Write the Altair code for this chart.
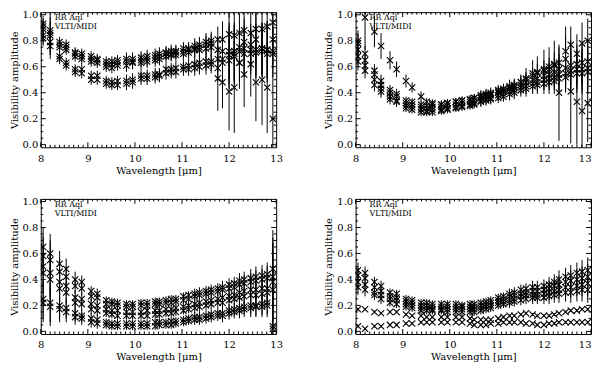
import altair as alt
import pandas as pd

# ---------------- data ----------------
WL = [8.05, 8.20, 8.40, 8.54, 8.73, 8.87, 9.07, 9.20, 9.39, 9.51, 9.63, 9.82, 9.95,
      10.13, 10.26, 10.43, 10.52, 10.66, 10.77, 10.87, 11.03, 11.14, 11.27, 11.37,
      11.51, 11.62, 11.76, 11.86, 12.00, 12.11, 12.22, 12.32, 12.46, 12.57, 12.70,
      12.81, 12.93]

# Panel 1 (top left)
P1_A = [0.93, 0.88, 0.79, 0.77, 0.71, 0.70, 0.68, 0.66, 0.64, 0.64, 0.65, 0.66, 0.66,
        0.67, 0.68, 0.69, 0.70, 0.71, 0.72, 0.72, 0.74, 0.74, 0.76, 0.77, 0.79, 0.80,
        0.81, 0.81, 0.85, 0.84, 0.86, 0.88, 0.86, 0.89, 0.89, 0.91, 0.94]
P1_B = [0.89, 0.84, 0.75, 0.73, 0.68, 0.66, 0.64, 0.63, 0.60, 0.59, 0.61, 0.61, 0.63,
        0.63, 0.64, 0.65, 0.66, 0.68, 0.69, 0.69, 0.70, 0.71, 0.73, 0.73, 0.74, 0.75,
        0.73, 0.72, 0.72, 0.72, 0.75, 0.79, 0.77, 0.81, 0.74, 0.73, 0.81]
P1_C = [0.84, 0.79, 0.68, 0.63, 0.58, 0.58, 0.53, 0.53, 0.49, 0.48, 0.49, 0.49, 0.50,
        0.53, 0.53, 0.54, 0.54, 0.58, 0.58, 0.59, 0.60, 0.61, 0.62, 0.63, 0.64, 0.64,
        0.66, 0.66, 0.69, 0.70, 0.72, 0.74, 0.73, 0.73, 0.72, 0.73, 0.72]
P1_D = [0.82, 0.76, 0.66, 0.61, 0.56, 0.55, 0.50, 0.50, 0.47, 0.46, 0.46, 0.47, 0.48,
        0.51, 0.51, 0.52, 0.53, 0.55, 0.56, 0.56, 0.58, 0.58, 0.59, 0.60, 0.61, 0.62,
        0.59, 0.63, 0.65, 0.68, 0.63, 0.70, 0.70, 0.71, 0.74, 0.70, 0.70]
P1_E = [0.91, 0.86, 0.77, 0.75, 0.70, 0.68, 0.66, 0.65, 0.62, 0.62, 0.63, 0.64, 0.64,
        0.65, 0.66, 0.67, 0.68, 0.70, 0.70, 0.71, 0.72, 0.73, 0.74, 0.75, 0.77, 0.78,
        0.51, 0.48, 0.41, 0.44, 0.63, 0.54, 0.62, 0.48, 0.50, 0.44, 0.20]
P1_ERR = [0.06, 0.10, 0.04, 0.04, 0.04, 0.04, 0.04, 0.04, 0.04, 0.04, 0.04, 0.05, 0.05,
          0.05, 0.05, 0.05, 0.05, 0.05, 0.05, 0.05, 0.05, 0.05, 0.06, 0.06, 0.07, 0.07,
          0.10, 0.14, 0.22, 0.22, 0.15, 0.18, 0.16, 0.20, 0.20, 0.22, 0.20]
P1_ERR_X = [0.06, 0.15, 0.04, 0.04, 0.04, 0.04, 0.04, 0.04, 0.04, 0.04, 0.04, 0.05, 0.05,
            0.05, 0.05, 0.05, 0.05, 0.05, 0.05, 0.05, 0.05, 0.05, 0.06, 0.06, 0.07, 0.07,
            0.25, 0.20, 0.30, 0.35, 0.20, 0.25, 0.25, 0.30, 0.35, 0.35, 0.30]

# Panel 2 (top right)
P2_A = [0.78, 0.70, 0.57, 0.49, 0.42, 0.39, 0.34, 0.33, 0.31, 0.30, 0.31, 0.31, 0.32,
        0.33, 0.34, 0.35, 0.36, 0.38, 0.39, 0.40, 0.42, 0.43, 0.45, 0.46, 0.48, 0.50,
        0.53, 0.55, 0.57, 0.58, 0.61, 0.63, 0.72, 0.77, 0.70, 0.78, 0.80]
P2_B = [0.73, 0.65, 0.54, 0.46, 0.40, 0.37, 0.32, 0.31, 0.29, 0.28, 0.29, 0.29, 0.30,
        0.31, 0.32, 0.33, 0.34, 0.36, 0.37, 0.38, 0.40, 0.41, 0.43, 0.44, 0.46, 0.48,
        0.50, 0.51, 0.53, 0.54, 0.56, 0.58, 0.59, 0.61, 0.62, 0.63, 0.64]
P2_C = [0.68, 0.61, 0.50, 0.43, 0.37, 0.34, 0.30, 0.29, 0.27, 0.26, 0.27, 0.27, 0.28,
        0.29, 0.30, 0.31, 0.32, 0.34, 0.35, 0.36, 0.38, 0.39, 0.41, 0.42, 0.44, 0.45,
        0.47, 0.48, 0.50, 0.51, 0.52, 0.54, 0.55, 0.57, 0.58, 0.58, 0.59]
P2_D = [0.64, 0.57, 0.46, 0.41, 0.35, 0.33, 0.28, 0.27, 0.25, 0.25, 0.25, 0.26, 0.27,
        0.28, 0.29, 0.30, 0.31, 0.33, 0.34, 0.35, 0.36, 0.37, 0.39, 0.40, 0.42, 0.43,
        0.45, 0.46, 0.47, 0.48, 0.49, 0.51, 0.52, 0.54, 0.55, 0.55, 0.56]
P2_E = [0.80, 0.98, 0.87, 0.76, 0.65, 0.58, 0.49, 0.44, 0.37, 0.33, 0.32, 0.31, 0.32,
        0.33, 0.34, 0.35, 0.36, 0.37, 0.38, 0.39, 0.41, 0.42, 0.44, 0.45, 0.48, 0.51,
        0.55, 0.56, 0.58, 0.60, 0.62, 0.40, 0.66, 0.41, 0.33, 0.26, 0.32]
P2_ERR = [0.07, 0.06, 0.05, 0.05, 0.04, 0.04, 0.03, 0.03, 0.03, 0.03, 0.03, 0.03, 0.03,
          0.03, 0.03, 0.03, 0.03, 0.04, 0.04, 0.04, 0.04, 0.04, 0.05, 0.05, 0.05, 0.06,
          0.06, 0.07, 0.08, 0.09, 0.10, 0.12, 0.12, 0.14, 0.15, 0.16, 0.17]
P2_ERR_X = [0.08, 0.25, 0.12, 0.10, 0.07, 0.06, 0.05, 0.04, 0.04, 0.03, 0.03, 0.03, 0.03,
            0.03, 0.03, 0.03, 0.03, 0.04, 0.04, 0.04, 0.04, 0.04, 0.05, 0.05, 0.06, 0.08,
            0.10, 0.12, 0.15, 0.15, 0.18, 0.37, 0.25, 0.40, 0.33, 0.30, 0.30]

# Panel 3 (bottom left)
P3_A = [0.65, 0.60, 0.52, 0.48, 0.40, 0.38, 0.31, 0.29, 0.24, 0.23, 0.22, 0.21, 0.21,
        0.22, 0.22, 0.23, 0.23, 0.24, 0.25, 0.25, 0.27, 0.28, 0.29, 0.30, 0.31, 0.32,
        0.33, 0.34, 0.36, 0.37, 0.39, 0.40, 0.41, 0.42, 0.43, 0.44, 0.48]
P3_B = [0.58, 0.55, 0.46, 0.42, 0.35, 0.33, 0.27, 0.26, 0.21, 0.21, 0.20, 0.19, 0.19,
        0.20, 0.20, 0.21, 0.21, 0.22, 0.22, 0.23, 0.24, 0.25, 0.27, 0.28, 0.29, 0.30,
        0.31, 0.32, 0.33, 0.34, 0.36, 0.37, 0.38, 0.39, 0.40, 0.41, 0.42]
P3_C = [0.50, 0.45, 0.38, 0.35, 0.26, 0.25, 0.21, 0.20, 0.17, 0.16, 0.16, 0.15, 0.15,
        0.15, 0.16, 0.16, 0.16, 0.17, 0.17, 0.18, 0.19, 0.20, 0.21, 0.22, 0.23, 0.24,
        0.25, 0.26, 0.27, 0.28, 0.30, 0.31, 0.32, 0.32, 0.33, 0.33, 0.38]
P3_D = [0.45, 0.40, 0.33, 0.30, 0.22, 0.21, 0.17, 0.16, 0.14, 0.13, 0.12, 0.12, 0.12,
        0.12, 0.12, 0.13, 0.13, 0.14, 0.14, 0.15, 0.16, 0.17, 0.18, 0.19, 0.20, 0.21,
        0.22, 0.22, 0.24, 0.25, 0.26, 0.27, 0.28, 0.28, 0.29, 0.30, 0.32]
P3_E = [0.25, 0.22, 0.20, 0.18, 0.14, 0.12, 0.10, 0.09, 0.07, 0.06, 0.06, 0.06, 0.06,
        0.06, 0.06, 0.07, 0.07, 0.07, 0.08, 0.08, 0.09, 0.10, 0.11, 0.11, 0.12, 0.13,
        0.14, 0.14, 0.16, 0.17, 0.18, 0.19, 0.20, 0.20, 0.21, 0.22, 0.04]
P3_F = [0.22, 0.19, 0.17, 0.15, 0.11, 0.10, 0.07, 0.06, 0.05, 0.04, 0.04, 0.04, 0.04,
        0.04, 0.04, 0.04, 0.05, 0.05, 0.05, 0.06, 0.07, 0.08, 0.09, 0.09, 0.10, 0.11,
        0.12, 0.12, 0.14, 0.15, 0.16, 0.17, 0.18, 0.19, 0.19, 0.20, 0.02]
P3_ERR = [0.15, 0.15, 0.10, 0.08, 0.06, 0.05, 0.04, 0.04, 0.03, 0.03, 0.03, 0.03, 0.03,
          0.03, 0.03, 0.03, 0.03, 0.03, 0.03, 0.03, 0.03, 0.03, 0.04, 0.04, 0.04, 0.04,
          0.04, 0.05, 0.05, 0.05, 0.06, 0.06, 0.07, 0.08, 0.08, 0.09, 0.30]

# Panel 4 (bottom right)
P4_A = [0.47, 0.45, 0.38, 0.35, 0.30, 0.29, 0.25, 0.24, 0.22, 0.22, 0.21, 0.21, 0.21,
        0.21, 0.20, 0.21, 0.21, 0.22, 0.23, 0.24, 0.26, 0.27, 0.29, 0.30, 0.32, 0.33,
        0.34, 0.34, 0.35, 0.36, 0.38, 0.40, 0.42, 0.43, 0.45, 0.46, 0.47]
P4_B = [0.43, 0.41, 0.34, 0.31, 0.27, 0.26, 0.23, 0.22, 0.20, 0.20, 0.19, 0.19, 0.19,
        0.19, 0.19, 0.19, 0.19, 0.20, 0.21, 0.22, 0.24, 0.25, 0.27, 0.28, 0.29, 0.30,
        0.31, 0.31, 0.32, 0.33, 0.35, 0.36, 0.38, 0.39, 0.40, 0.41, 0.42]
P4_C = [0.38, 0.36, 0.30, 0.28, 0.25, 0.24, 0.21, 0.20, 0.18, 0.18, 0.17, 0.17, 0.17,
        0.17, 0.17, 0.17, 0.17, 0.18, 0.19, 0.20, 0.22, 0.23, 0.24, 0.25, 0.27, 0.28,
        0.28, 0.28, 0.29, 0.30, 0.31, 0.32, 0.34, 0.34, 0.35, 0.36, 0.37]
P4_D = [0.34, 0.32, 0.28, 0.25, 0.22, 0.21, 0.19, 0.18, 0.16, 0.16, 0.16, 0.16, 0.15,
        0.15, 0.15, 0.15, 0.15, 0.16, 0.17, 0.18, 0.20, 0.21, 0.22, 0.23, 0.24, 0.25,
        0.26, 0.26, 0.26, 0.27, 0.28, 0.29, 0.30, 0.30, 0.31, 0.32, 0.32]
P4_E = [0.17, 0.17, 0.15, 0.14, 0.15, 0.15, 0.13, 0.12, 0.12, 0.11, 0.11, 0.11, 0.11,
        0.11, 0.11, 0.10, 0.09, 0.09, 0.09, 0.09, 0.10, 0.11, 0.12, 0.12, 0.13, 0.14,
        0.13, 0.12, 0.12, 0.12, 0.13, 0.14, 0.15, 0.16, 0.16, 0.17, 0.17]
P4_F = [0.04, 0.02, 0.04, 0.04, 0.05, 0.05, 0.06, 0.06, 0.07, 0.07, 0.07, 0.07, 0.07,
        0.07, 0.07, 0.06, 0.05, 0.05, 0.05, 0.06, 0.06, 0.07, 0.07, 0.07, 0.07, 0.06,
        0.06, 0.05, 0.05, 0.06, 0.06, 0.07, 0.07, 0.07, 0.07, 0.07, 0.07]
P4_ERR = [0.06, 0.05, 0.04, 0.04, 0.03, 0.03, 0.03, 0.03, 0.03, 0.03, 0.03, 0.03, 0.03,
          0.03, 0.03, 0.03, 0.03, 0.03, 0.03, 0.03, 0.03, 0.03, 0.04, 0.04, 0.04, 0.04,
          0.05, 0.05, 0.05, 0.06, 0.06, 0.07, 0.07, 0.08, 0.08, 0.09, 0.10]
P4_ERR_X = [0.01, 0.01, 0.01, 0.01, 0.01, 0.01, 0.01, 0.01, 0.01, 0.01, 0.01, 0.01, 0.01,
            0.01, 0.01, 0.01, 0.01, 0.01, 0.01, 0.01, 0.01, 0.01, 0.01, 0.01, 0.01, 0.01,
            0.01, 0.01, 0.01, 0.01, 0.01, 0.01, 0.01, 0.01, 0.01, 0.01, 0.01]

LABEL_1 = "RR Aql"
LABEL_2 = "VLTI/MIDI"
X_TITLE = "Wavelength [\u03bcm]"
Y_TITLE = "Visibility amplitude"
X_TICKS = [8, 9, 10, 11, 12, 13]
Y_TICKS = [0.0, 0.2, 0.4, 0.6, 0.8, 1.0]

# ---------------- layout ----------------
W, H = 237, 136
XDOM = [8, 13]
YDOM = [-0.02, 1.02]
FONT = "DejaVu Serif"
CROSS = "M-1,-1L1,1M-1,1L1,-1"

X_MINOR = [8 + i / 10 for i in range(1, 50) if i % 10]
Y_MINOR = [i / 20 for i in range(0, 21) if i % 4]


def panel_frame(series):
    rows = []
    for vals, errs in series:
        for w, v, e in zip(WL, vals, errs):
            rows.append({"wl": w, "v": v, "lo": v - e, "hi": v + e})
    return pd.DataFrame(rows)


def make_panel(series, right=False):
    df = panel_frame(series)
    xs = alt.Scale(domain=XDOM, nice=False, zero=False)
    ys = alt.Scale(domain=YDOM, nice=False, zero=False)
    if right:
        x_align = alt.condition("datum.value == 13", alt.value("right"), alt.value("center"))
    else:
        x_align = "center"
    xaxis = alt.Axis(values=X_TICKS, format="d", title=X_TITLE, labelPadding=6,
                     titlePadding=2, labelAlign=x_align)
    yaxis = alt.Axis(values=Y_TICKS, format=".1f", title=Y_TITLE, labelPadding=3,
                     titlePadding=3)

    def X(f):
        return alt.X(f, scale=xs, axis=xaxis)

    def Y(f):
        return alt.Y(f, scale=ys, axis=yaxis)

    bars = alt.Chart(df).mark_rule(color="black", strokeWidth=1, clip=True).encode(
        x=X("wl:Q"), y=Y("lo:Q"), y2="hi:Q",
    )
    pts = alt.Chart(df).mark_point(shape=CROSS, size=40, filled=False, color="black",
                                   strokeWidth=1.1, opacity=1, clip=True).encode(
        x=X("wl:Q"), y=Y("v:Q"),
    )

    xmaj = pd.DataFrame({"wl": X_TICKS})
    xmin = pd.DataFrame({"wl": X_MINOR})
    ymaj = pd.DataFrame({"v": Y_TICKS})
    ymin = pd.DataFrame({"v": Y_MINOR})
    tick_layers = []
    for d, ln in ((xmaj, 5), (xmin, 2.5)):
        for y0, y1 in ((H, H - ln), (0, ln)):
            tick_layers.append(alt.Chart(d).mark_rule(color="black", strokeWidth=1).encode(
                x=X("wl:Q"), y=alt.value(y0), y2=alt.value(y1)))
    for d, ln in ((ymaj, 5), (ymin, 2.5)):
        for x0, x1 in ((0, ln), (W, W - ln)):
            tick_layers.append(alt.Chart(d).mark_rule(color="black", strokeWidth=1).encode(
                y=Y("v:Q"), x=alt.value(x0), x2=alt.value(x1)))

    lab = pd.DataFrame({"t": [LABEL_1, LABEL_2]})
    txt1 = alt.Chart(lab.iloc[[0]]).mark_text(font=FONT, fontSize=8, align="left",
                                               baseline="middle", color="black").encode(
        text="t:N", x=alt.value(14), y=alt.value(6))
    txt2 = alt.Chart(lab.iloc[[1]]).mark_text(font=FONT, fontSize=8, align="left",
                                               baseline="middle", color="black").encode(
        text="t:N", x=alt.value(14), y=alt.value(15))

    return alt.layer(bars, pts, *tick_layers, txt1, txt2).properties(width=W, height=H)


p1 = make_panel([(P1_A, P1_ERR), (P1_B, P1_ERR), (P1_C, P1_ERR), (P1_D, P1_ERR),
                 (P1_E, P1_ERR_X)])
p2 = make_panel([(P2_A, P2_ERR), (P2_B, P2_ERR), (P2_C, P2_ERR), (P2_D, P2_ERR),
                 (P2_E, P2_ERR_X)], right=True)
p3 = make_panel([(P3_A, P3_ERR), (P3_B, P3_ERR), (P3_C, P3_ERR), (P3_D, P3_ERR),
                 (P3_E, P3_ERR), (P3_F, P3_ERR)])
p4 = make_panel([(P4_A, P4_ERR), (P4_B, P4_ERR), (P4_C, P4_ERR), (P4_D, P4_ERR),
                 (P4_E, P4_ERR_X), (P4_F, P4_ERR_X)], right=True)

chart = alt.vconcat(
    alt.hconcat(p1, p2, spacing=40),
    alt.hconcat(p3, p4, spacing=40),
    spacing=20,
).configure_view(stroke="black", strokeWidth=1).configure_axis(
    labelFont=FONT, labelFontSize=10, labelColor="black",
    titleFont=FONT, titleFontSize=10, titleFontWeight="normal", titleColor="black",
    ticks=False, domain=False, grid=False,
).properties(padding={"left": 0, "top": 0, "right": 0, "bottom": 0}, background="white")

chart.save("out.html", embed_options={"renderer": "svg", "actions": False})
